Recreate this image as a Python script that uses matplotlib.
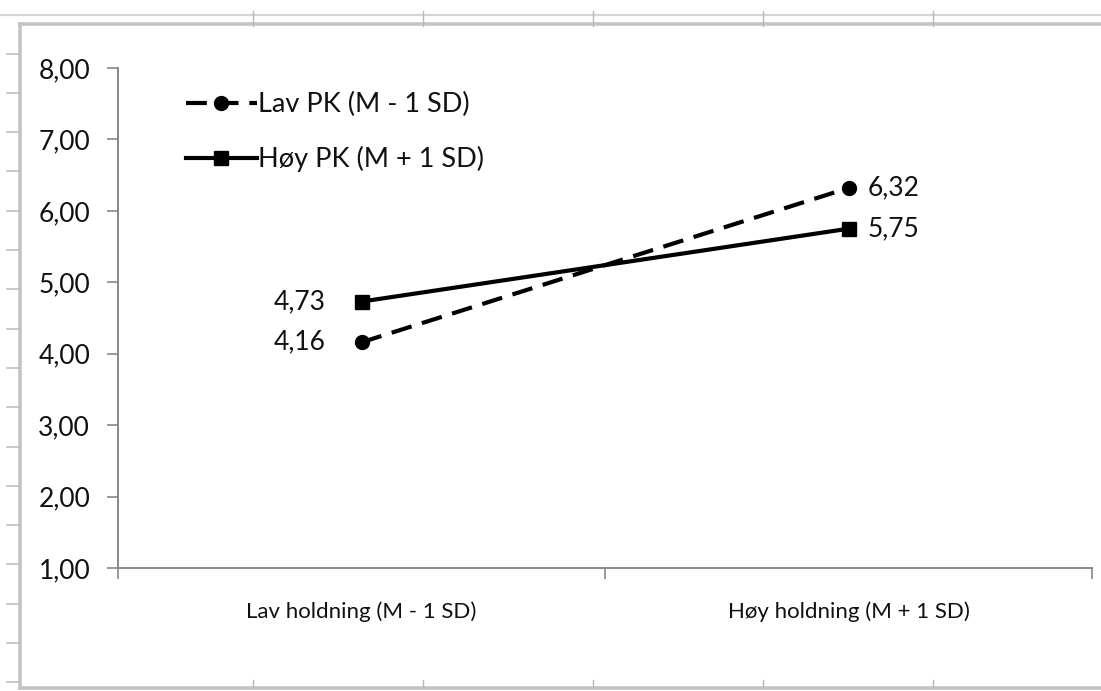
import matplotlib
matplotlib.use("Agg")
import matplotlib.pyplot as plt

categories = ["Lav holdning (M - 1 SD)", "Høy holdning (M + 1 SD)"]
series_names = ["Lav PK (M - 1 SD)", "Høy PK (M + 1 SD)"]
lav_pk = [4.16, 6.32]
hoy_pk = [4.73, 5.75]
ytick_vals = [1, 2, 3, 4, 5, 6, 7, 8]

plt.rcParams['font.family'] = ['Lato', 'DejaVu Sans']
W, H = 1101, 691
fig = plt.figure(figsize=(W / 100, H / 100), dpi=100)
fig.patch.set_facecolor('white')

# background (spreadsheet screenshot decorations) in pixel coordinates
bg = fig.add_axes([0, 0, 1, 1])
bg.set_xlim(0, W)
bg.set_ylim(H, 0)
bg.axis('off')
g1, g2 = '#d4d4d4', '#c4c4c4'
bg.plot([0, W], [15, 15], color=g1, lw=1.6)
bg.plot([20, W], [24, 24], color=g2, lw=2.6)
bg.plot([20, 20], [24, 688], color=g2, lw=2.6)
bg.plot([20, W], [688, 688], color=g2, lw=2.6)
for xp in [253, 423, 593, 763, 933]:
    bg.plot([xp, xp], [11, 26], color='#b8b8b8', lw=1.0)
    bg.plot([xp, xp], [680, 688], color='#b8b8b8', lw=1.0)
yp = 53.5
while yp < 690:
    bg.plot([7, 20], [yp, yp], color='#c0c0c0', lw=1.2)
    yp += 39.3

ax = fig.add_axes([118 / W, 1 - 568 / H, (1092 - 118) / W, (568 - 68) / H])
ax.set_facecolor('none')
x = [0, 1]
ax.plot(x, lav_pk, color='black', lw=3.0, ls=(0, (5, 2.6)), marker='o', ms=10,
        label=series_names[0], zorder=3)
ax.plot(x, hoy_pk, color='black', lw=3.0, ls='-', marker='s', ms=9.5,
        label=series_names[1], zorder=3)

ax.set_xlim(-0.5, 1.5)
ax.set_ylim(1, 8)
ax.set_yticks(ytick_vals)
ax.set_yticklabels([f"{v:.2f}".replace('.', ',') for v in ytick_vals],
                   fontsize=19, color='#111111')
ax.set_xticks([-0.5, 0.5, 1.5])
ax.set_xticklabels([])
ax.set_xticks([0, 1], minor=True)
ax.set_xticklabels(categories, minor=True, fontsize=16, color='#111111')
ax.tick_params(axis='x', which='minor', length=0, pad=24)
ax.tick_params(axis='x', which='major', length=8, width=1.2, color='#888888', direction='out')
ax.tick_params(axis='y', length=8, width=1.2, color='#888888', direction='out', pad=12)
for s in ['top', 'right']:
    ax.spines[s].set_visible(False)
for s in ['left', 'bottom']:
    ax.spines[s].set_color('#888888')
    ax.spines[s].set_linewidth(1.4)

# data labels
for i, (a, b) in enumerate(zip(lav_pk, hoy_pk)):
    if i == 0:
        off, ha = -26, 'right'
    else:
        off, ha = 14, 'left'
    for v in (a, b):
        ax.annotate(f"{v:.2f}".replace('.', ','), (x[i], v), xytext=(off, 0),
                    textcoords='offset points', ha=ha, va='center',
                    fontsize=19, color='#111111')

leg = ax.legend(loc='upper left', bbox_to_anchor=(0.045, 1.0), frameon=False,
                fontsize=19.5, handlelength=2.6, handletextpad=0.05,
                labelspacing=1.05, labelcolor='#111111')

fig.savefig('out.png', dpi=100, facecolor='white')
